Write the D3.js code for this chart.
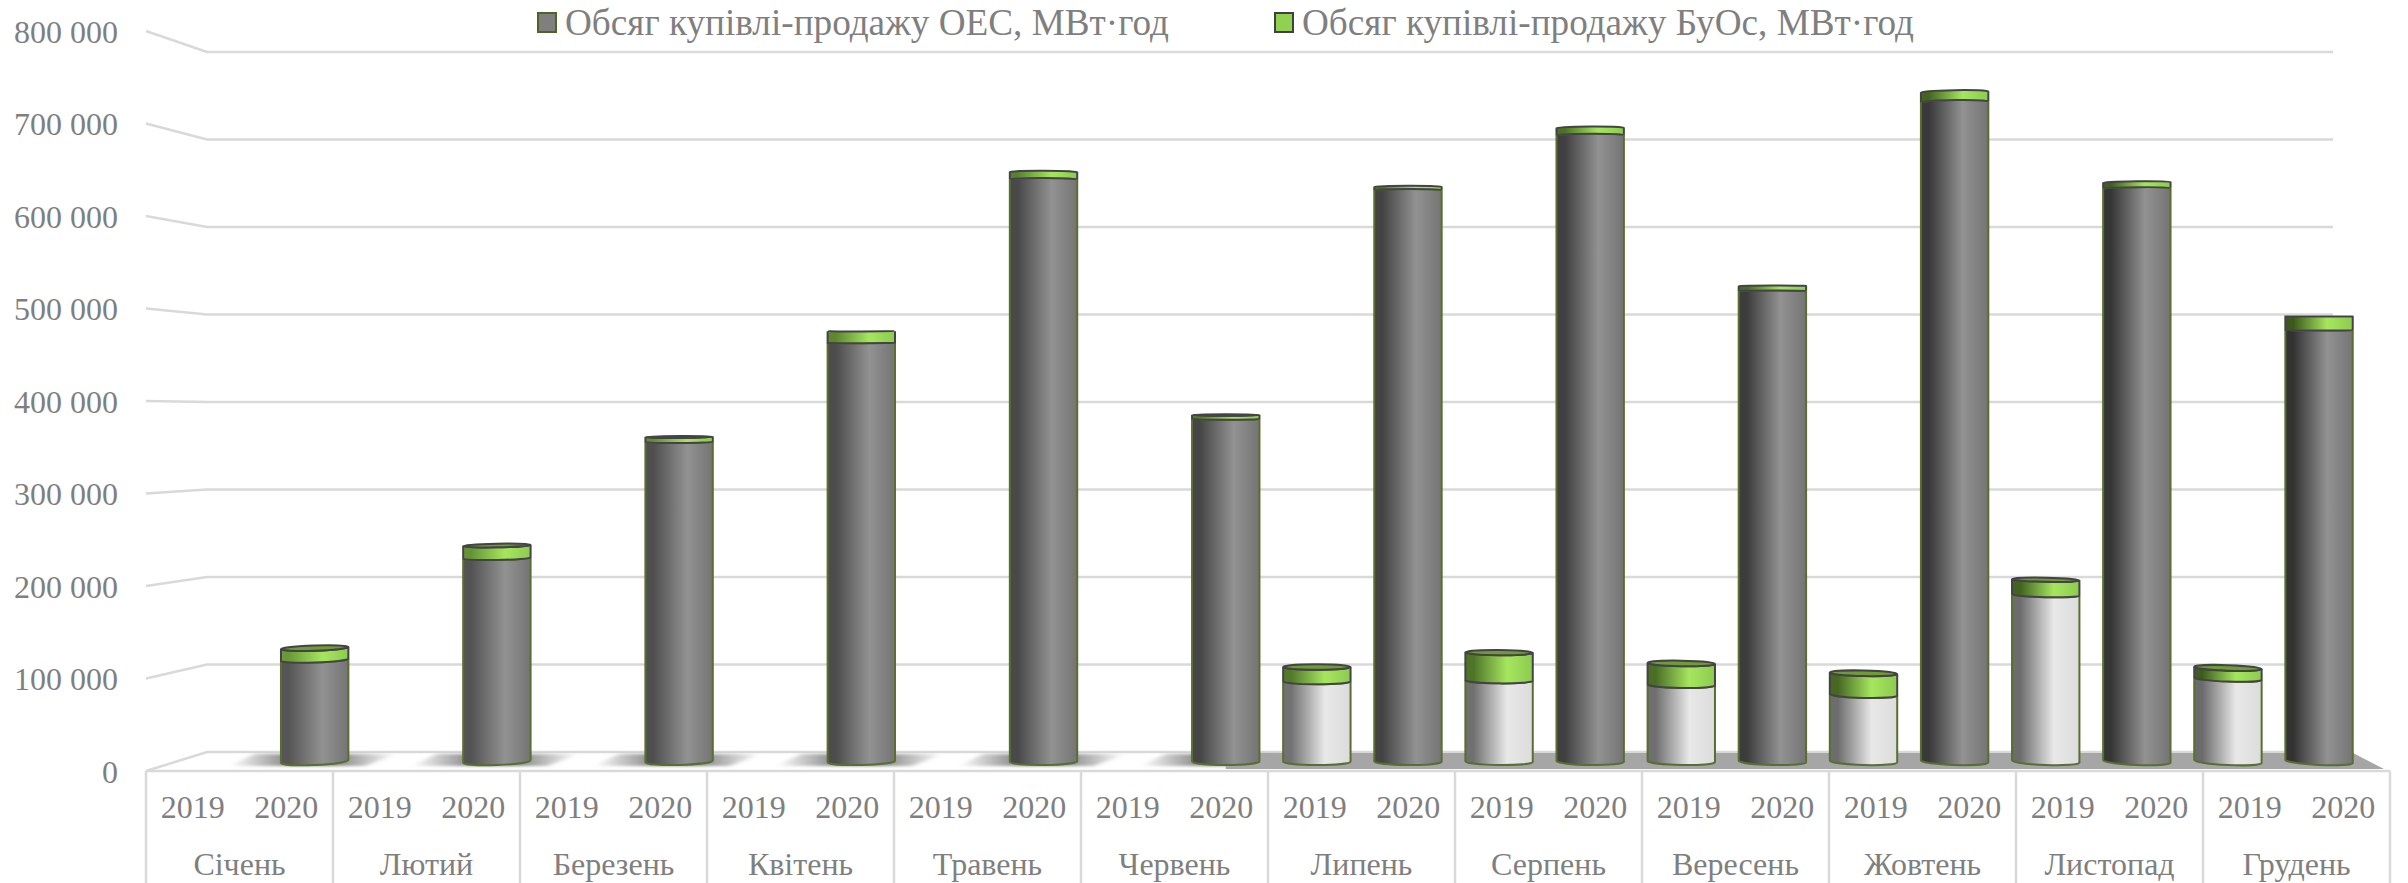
<!DOCTYPE html>
<html>
<head>
<meta charset="utf-8">
<script src="https://cdn.jsdelivr.net/npm/d3@7"></script>
<style>
  body { margin: 0; background: #fff; }
  text { font-family: "Liberation Serif", serif; font-size: 31.5px; fill: #7f7f7f; }
  .grid { stroke: #d9d9d9; stroke-width: 2.5; fill: none; }
</style>
</head>
<body>
<div id="chart"></div>
<script>
var months = ["Січень", "Лютий", "Березень", "Квітень", "Травень", "Червень", "Липень", "Серпень", "Вересень", "Жовтень", "Листопад", "Грудень"];
var years = ["2019", "2020"];
var yTicks = [0, 100000, 200000, 300000, 400000, 500000, 600000, 700000, 800000];
var legendLabels = ["Обсяг купівлі-продажу ОЕС, МВт·год", "Обсяг купівлі-продажу БуОс, МВт·год"];

// MWh
var oes2019 = [0, 0, 0, 0, 0, 0, 89000, 90000, 85000, 74000, 185000, 92000];
var buos2019 = [0, 0, 0, 0, 0, 0, 16000, 31000, 24000, 24000, 17000, 12000];
var oes2020 = [113000, 226000, 355000, 465000, 647000, 380500, 635000, 696000, 523000, 733000, 637000, 479000];
var buos2020 = [13000, 14000, 5500, 13000, 8000, 4500, 3500, 8000, 5500, 11000, 6500, 15500];

var svgWidth = 2408;
var svgHeight = 883;

var svg = d3.select("#chart")
  .append("svg")
  .attr("width", svgWidth)
  .attr("height", svgHeight)
  .style("display", "block");

var defs = svg.append("defs");

// three planes of the fake 3D box: front edge, back wall, and the middle where the bars stand
var yFront = d3.scaleLinear().domain([0, 800000]).range([771, 31]);
var yBack = d3.scaleLinear().domain([0, 800000]).range([752, 52]);
var yBar = d3.scaleLinear().domain([0, 800000]).range([761.5, 41.5]);

var frontLeft = 146, frontRight = 2390, backLeft = 207, backRight = 2333;

var barKeys = d3.range(24);
var xBar = d3.scaleBand().domain(barKeys).range([178, 2364.6]);
var xFront = d3.scaleBand().domain(barKeys).range([frontLeft, frontRight]);
var xMonth = d3.scaleBand().domain(months).range([frontLeft, frontRight]);

// gridlines with the short diagonal on the side wall
yTicks.forEach(function(t) {
  svg.append("path")
    .attr("class", "grid")
    .attr("d", d3.line()([[frontLeft, yFront(t)], [backLeft, yBack(t)], [backRight, yBack(t)]]));
});
svg.append("line").attr("class", "grid")
  .attr("x1", frontLeft).attr("x2", frontRight)
  .attr("y1", yFront(0)).attr("y2", yFront(0));

// month separators below the floor
xMonth.domain().concat(["end"]).forEach(function(m) {
  var x = m == "end" ? frontRight : xMonth(m);
  svg.append("line").attr("class", "grid")
    .attr("x1", x).attr("x2", x)
    .attr("y1", yFront(0)).attr("y2", svgHeight);
});

// floor shadow
var blob = defs.append("linearGradient").attr("id", "blob");
blob.append("stop").attr("offset", "0%").attr("stop-color", "#808080").attr("stop-opacity", 0);
blob.append("stop").attr("offset", "38%").attr("stop-color", "#808080").attr("stop-opacity", 1);
blob.append("stop").attr("offset", "62%").attr("stop-color", "#808080").attr("stop-opacity", 1);
blob.append("stop").attr("offset", "100%").attr("stop-color", "#808080").attr("stop-opacity", 0);

defs.append("filter").attr("id", "soft")
  .attr("x", "-10%").attr("y", "-40%").attr("width", "120%").attr("height", "180%")
  .append("feGaussianBlur").attr("stdDeviation", "3 1.5");

months.forEach(function(m, i) {
  if (oes2019[i] > 0) return;
  var xc = xBar(i * 2 + 1) + xBar.bandwidth() / 2;
  svg.append("path")
    .attr("fill", "url(#blob)")
    .attr("filter", "url(#soft)")
    .attr("d", d3.line()([[xc - 60, 754], [xc + 82, 754], [xc + 50, 766], [xc - 85, 766]]) + "Z");
});
var bandStart = xBar(11) + xBar.bandwidth() / 2;
svg.append("path")
  .attr("fill", "#a6a6a6")
  .attr("d", d3.line()([[bandStart, 753], [2353, 753], [2384, 769], [bandStart, 769]]) + "Z");

// vertical shading of a cylinder, gets darker on the left towards the right of the chart
function shade(id, t, stops) {
  var g = defs.append("linearGradient").attr("id", id);
  g.append("stop").attr("offset", "0%").attr("stop-color", d3.interpolateRgb(stops[0], stops[1])(t));
  g.append("stop").attr("offset", "12%").attr("stop-color", d3.interpolateRgb(stops[0], stops[1])(t));
  g.append("stop").attr("offset", "62%").attr("stop-color", stops[2]);
  g.append("stop").attr("offset", "100%").attr("stop-color", stops[3]);
}

var rx = 33.7;

function ellipseAt(xc, y) {
  var s = 3.4e-6 * (xc - 1268) * (y - 316);
  return {
    ry: 3.5 * (y - 316) / 445,
    s: s,
    angle: Math.atan2(s, rx) * 180 / Math.PI,
    left: [xc - rx, y - s],
    right: [xc + rx, y + s]
  };
}

function cylinderPath(xc, yBottom, yTop) {
  var b = ellipseAt(xc, yBottom), t = ellipseAt(xc, yTop);
  return "M" + b.left +
    "A" + rx + "," + Math.abs(b.ry) + " " + b.angle + " 0 " + (b.ry >= 0 ? 0 : 1) + " " + b.right +
    "L" + t.right +
    "A" + rx + "," + Math.abs(t.ry) + " " + t.angle + " 0 " + (t.ry >= 0 ? 1 : 0) + " " + t.left + "Z";
}

function drawSegment(xc, v0, v1, fill, stroke, strokeW) {
  svg.append("path")
    .attr("d", cylinderPath(xc, yBar(v0), yBar(v1)))
    .attr("fill", fill)
    .attr("stroke", stroke)
    .attr("stroke-width", strokeW);
}

function drawBar(i, oes, buos, body) {
  var xc = xBar(i) + xBar.bandwidth() / 2;
  var t = (xc - 300) / 2000;
  shade("b" + i, t, body);
  shade("g" + i, t, ["#6a9a38", "#3c5a1c", "#a6e65e", "#8ccb4e"]);
  drawSegment(xc, 0, oes, "url(#b" + i + ")", "#5a6e30", 2);
  drawSegment(xc, oes, oes + buos, "url(#g" + i + ")", "#444", 2);
  var top = ellipseAt(xc, yBar(oes + buos));
  if (top.ry > 0.4) {
    svg.append("ellipse")
      .attr("cx", xc).attr("cy", yBar(oes + buos))
      .attr("rx", rx).attr("ry", top.ry)
      .attr("transform", "rotate(" + top.angle + " " + xc + " " + yBar(oes + buos) + ")")
      .attr("fill", "#6f9c38")
      .attr("stroke", "#444")
      .attr("stroke-width", 2);
  }
}

months.forEach(function(m, i) {
  if (oes2019[i] > 0) drawBar(i * 2, oes2019[i], buos2019[i], ["#7a7a7a", "#6a6a6a", "#e8e8e8", "#dcdcdc"]);
  drawBar(i * 2 + 1, oes2020[i], buos2020[i], ["#565656", "#333333", "#929292", "#747474"]);
});

// axes
var fmt = d3.formatLocale({ decimal: ".", thousands: " ", grouping: [3], currency: ["", ""] }).format(",");

var leftAxis = d3.axisLeft(yFront).tickValues(yTicks).tickSize(0).tickPadding(0).tickFormat(fmt);
var yearAxis = d3.axisBottom(xFront).tickSize(0).tickPadding(24.6).tickFormat(function(d) { return years[d % 2]; });
var monthAxis = d3.axisBottom(xMonth).tickSize(0).tickPadding(81.6);

svg.append("g").attr("transform", "translate(118,1)").call(leftAxis)
  .call(function(g) { g.select(".domain").remove(); });
svg.append("g").attr("transform", "translate(0,771)").call(yearAxis)
  .call(function(g) { g.select(".domain").remove(); });
svg.append("g").attr("transform", "translate(0,771)").call(monthAxis)
  .call(function(g) { g.select(".domain").remove(); });

svg.selectAll("g text").style("font-family", '"Liberation Serif", serif').style("font-size", "32px").attr("fill", "#7f7f7f");

// legend
var legendX = [538, 1275];
var legendFill = ["#7f7f7f", "#92d050"];
var legendStroke = ["#4f6228", "#404040"];
legendLabels.forEach(function(label, i) {
  svg.append("rect")
    .attr("x", legendX[i]).attr("y", 13)
    .attr("width", 18).attr("height", 19)
    .attr("fill", legendFill[i])
    .attr("stroke", legendStroke[i])
    .attr("stroke-width", 2);
  svg.append("text")
    .attr("x", legendX[i] + 27).attr("y", 35)
    .style("font-size", "37.2px")
    .text(label);
});
</script>
</body>
</html>
